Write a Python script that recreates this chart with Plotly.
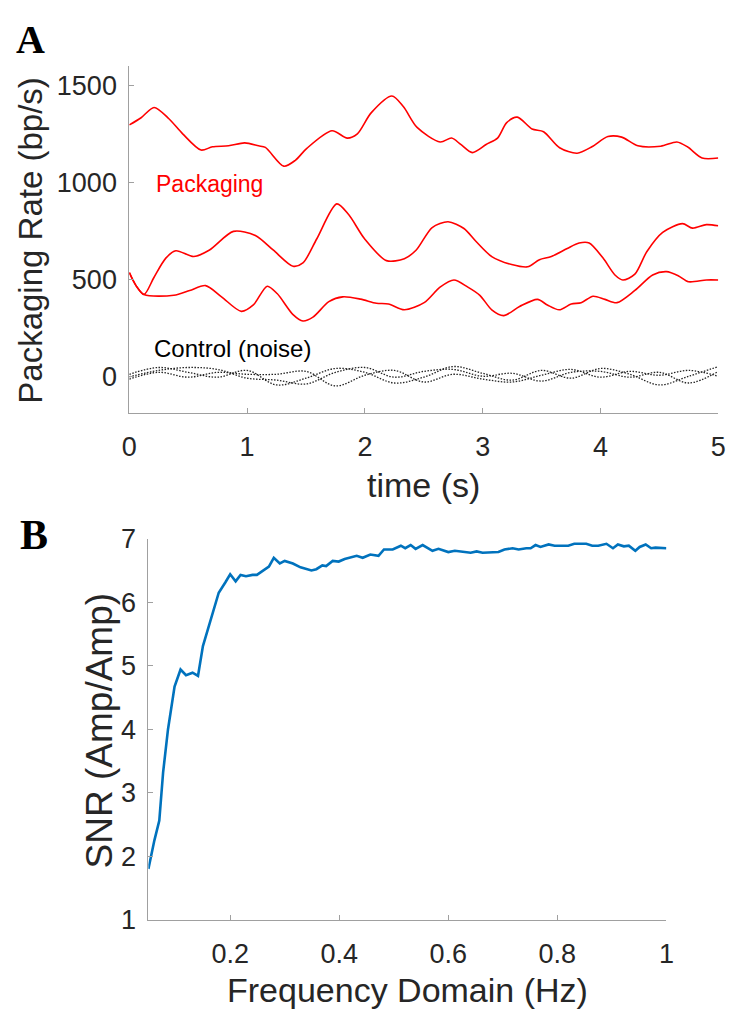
import plotly.graph_objects as go

W, H = 738, 1025

# ---------------- Panel A data ----------------
pk_top_t = [0, 0.10, 0.21, 0.336, 0.453, 0.609, 0.706, 0.843, 0.98, 1.097, 1.155, 1.311, 1.409, 1.507,
            1.721, 1.85, 1.936, 2.053, 2.229, 2.326, 2.443, 2.639, 2.736, 2.814, 2.912, 3.029, 3.126,
            3.204, 3.294, 3.419, 3.517, 3.653, 3.802, 3.927, 4.063, 4.18, 4.317, 4.512, 4.649, 4.738,
            4.863, 5.0]
pk_top_v = [1298, 1335, 1388, 1330, 1252, 1168, 1185, 1190, 1205, 1190, 1182, 1085, 1115, 1177,
            1268, 1230, 1252, 1360, 1447, 1393, 1285, 1210, 1230, 1197, 1155, 1197, 1230,
            1310, 1338, 1277, 1263, 1180, 1152, 1185, 1238, 1235, 1190, 1188, 1210, 1185,
            1127, 1127]

pk_mid_t = [0, 0.057, 0.125, 0.209, 0.31, 0.395, 0.547, 0.681, 0.884, 1.07, 1.221, 1.39, 1.474, 1.592,
            1.761, 1.862, 1.997, 2.183, 2.335, 2.436, 2.571, 2.706, 2.841, 2.942, 3.077, 3.246, 3.381,
            3.482, 3.583, 3.718, 3.819, 3.904, 4.022, 4.123, 4.19, 4.292, 4.393, 4.528, 4.696, 4.781,
            4.899, 5.0]
pk_mid_v = [535, 468, 422, 510, 610, 648, 618, 652, 748, 727, 652, 568, 585, 710,
            890, 835, 710, 597, 607, 652, 768, 798, 763, 697, 618, 577, 565,
            602, 618, 660, 688, 688, 610, 523, 497, 527, 643, 743, 788, 765,
            783, 777]

pk_low_t = [0, 0.057, 0.125, 0.378, 0.513, 0.648, 0.783, 0.951, 1.053, 1.171, 1.255, 1.39, 1.474, 1.559,
            1.694, 1.812, 1.964, 2.098, 2.2, 2.335, 2.503, 2.638, 2.756, 2.874, 2.976, 3.077, 3.178,
            3.313, 3.465, 3.549, 3.65, 3.752, 3.836, 3.937, 4.038, 4.14, 4.292, 4.443, 4.561, 4.663,
            4.747, 4.899, 5.0]
pk_low_v = [535, 468, 422, 418, 443, 468, 410, 335, 368, 465, 427, 318, 285, 305,
            385, 410, 398, 377, 373, 343, 380, 460, 497, 460, 418, 343, 313,
            360, 397, 368, 343, 373, 380, 413, 397, 380, 443, 523, 540, 518,
            488, 497, 497]

noise_t = [0, 0.25, 0.5, 0.75, 1.0, 1.25, 1.5, 1.75, 2.0, 2.25, 2.5, 2.75, 3.0, 3.25, 3.5,
           3.75, 4.0, 4.25, 4.5, 4.75, 5.0]
noise_1 = [10, 45, 20, -5, 30, -45, -10, 40, 20, -35, -5, 50, 15, -20, 30, -10, 40, 10, -45, 0, 50]
noise_2 = [-3, 30, 45, 35, -10, -20, -40, 20, 45, -5, 25, 35, 0, 15, -25, 20, 25, -5, 20, -35, 25]
noise_3 = [-15, 20, -5, 20, 10, 10, 25, -50, 5, 30, -30, 10, -15, -30, 5, 35, -5, 25, 5, 30, 0]

a_yticks = [0, 500, 1000, 1500]
a_xticks = [0, 1, 2, 3, 4, 5]

# ---------------- Panel B data ----------------
snr_f = [0.05, 0.061, 0.07, 0.077, 0.086, 0.092, 0.098, 0.109, 0.119, 0.131, 0.141, 0.15, 0.161, 0.17,
         0.179, 0.191, 0.2, 0.21, 0.219, 0.229, 0.241, 0.249, 0.264, 0.271, 0.28, 0.291, 0.3, 0.315,
         0.329, 0.349, 0.358, 0.369, 0.376, 0.388, 0.399, 0.41, 0.432, 0.443, 0.457, 0.472, 0.482,
         0.498, 0.513, 0.521, 0.531, 0.54, 0.553, 0.571, 0.582, 0.6, 0.612, 0.626, 0.641, 0.652,
         0.663, 0.692, 0.703, 0.718, 0.729, 0.743, 0.751, 0.76, 0.769, 0.784, 0.795, 0.82, 0.831,
         0.853, 0.864, 0.875, 0.89, 0.902, 0.911, 0.922, 0.931, 0.943, 0.951, 0.962, 0.972, 0.98,
         0.991, 1.0]
snr_v = [1.80, 2.25, 2.56, 3.32, 4.0, 4.35, 4.67, 4.94, 4.85, 4.89, 4.84, 5.31, 5.62, 5.9,
         6.15, 6.31, 6.44, 6.33, 6.43, 6.41, 6.43, 6.43, 6.52, 6.56, 6.70, 6.61, 6.65, 6.61,
         6.55, 6.50, 6.52, 6.58, 6.57, 6.65, 6.64, 6.68, 6.73, 6.70, 6.75, 6.73, 6.83,
         6.83, 6.89, 6.85, 6.90, 6.84, 6.90, 6.81, 6.84, 6.79, 6.81, 6.80, 6.78, 6.80,
         6.78, 6.79, 6.83, 6.85, 6.83, 6.85, 6.85, 6.90, 6.87, 6.91, 6.89, 6.89, 6.92,
         6.92, 6.89, 6.89, 6.92, 6.85, 6.91, 6.88, 6.89, 6.81, 6.87, 6.91, 6.85, 6.86,
         6.85, 6.85]

b_yticks = [1, 2, 3, 4, 5, 6, 7]
b_xticks = [0.2, 0.4, 0.6, 0.8, 1.0]
b_xlabels = ["0.2", "0.4", "0.6", "0.8", "1"]


def px(x):
    return x / W


def py(y):
    return 1 - y / H


fig = go.Figure()

red = "#ff0000"
for t, v in [(pk_top_t, pk_top_v), (pk_mid_t, pk_mid_v), (pk_low_t, pk_low_v)]:
    fig.add_trace(go.Scatter(x=t, y=v, mode="lines", xaxis="x", yaxis="y",
                             line=dict(color=red, width=1.6, shape="spline", smoothing=0.8),
                             showlegend=False, hoverinfo="skip"))
for v in [noise_1, noise_2, noise_3]:
    fig.add_trace(go.Scatter(x=noise_t, y=v, mode="lines", xaxis="x", yaxis="y",
                             line=dict(color="#222222", width=1.3, dash="1.5px,1.5px",
                                       shape="spline", smoothing=1.0),
                             showlegend=False, hoverinfo="skip"))

fig.add_trace(go.Scatter(x=snr_f, y=snr_v, mode="lines", xaxis="x2", yaxis="y2",
                         line=dict(color="#0072BD", width=2.6),
                         showlegend=False, hoverinfo="skip"))

tickfont = dict(family="Liberation Sans, Arial, sans-serif", size=27, color="#262626")
axcolor = "#a0a0a0"
common = dict(showline=True, linecolor=axcolor, linewidth=1, ticks="inside", ticklen=5,
              tickcolor=axcolor, tickwidth=1, showgrid=False, zeroline=False, mirror=False,
              tickfont=tickfont, fixedrange=True)

fig.update_layout(
    width=W, height=H, margin=dict(l=0, r=0, t=0, b=0),
    paper_bgcolor="white", plot_bgcolor="white",
    xaxis=dict(domain=[px(124), px(726)], range=[0, 5], anchor="y",
               tickvals=a_xticks, ticklabelstandoff=10, **common),
    yaxis=dict(domain=[py(410), py(53)], range=[-190, 1600], anchor="x",
               tickvals=a_yticks, ticklabelstandoff=6, **common),
    xaxis2=dict(domain=[px(143.5), px(673)], range=[0.05, 1], anchor="y2",
                tickvals=b_xticks, ticktext=b_xlabels, ticklabelstandoff=10, **common),
    yaxis2=dict(domain=[py(932), py(539.5)], range=[1, 7], anchor="x2",
                tickvals=b_yticks, ticklabelstandoff=6, **common),
)

titlefont = dict(family="Liberation Sans, Arial, sans-serif", size=34, color="#262626")
annots = [
    dict(text="<b>A</b>", x=px(6), y=py(0), xanchor="left", yanchor="top",
         font=dict(family="Liberation Serif, Times New Roman, serif", size=40, color="black")),
    dict(text="<b>B</b>", x=px(10), y=py(510), xanchor="left", yanchor="top",
         font=dict(family="Liberation Serif, Times New Roman, serif", size=42, color="black")),
    dict(text="time (s)", x=px(425), y=py(484), xanchor="center", yanchor="middle", font=titlefont),
    dict(text="Frequency Domain (Hz)", x=px(408), y=py(1004), xanchor="center", yanchor="middle",
         font=titlefont),
    dict(text="Packaging Rate (bp/s)", x=px(23), y=py(232), xanchor="center", yanchor="middle",
         textangle=-90, font=dict(family="Liberation Sans, Arial, sans-serif", size=33, color="#262626")),
    dict(text="SNR (Amp/Amp)", x=px(93), y=py(737), xanchor="center", yanchor="middle",
         textangle=-90, font=dict(family="Liberation Sans, Arial, sans-serif", size=37, color="#262626")),
    dict(text="Packaging", x=px(149), y=py(174), xanchor="left", yanchor="middle",
         font=dict(family="Liberation Sans, Arial, sans-serif", size=23, color=red)),
    dict(text="Control (noise)", x=px(147), y=py(344), xanchor="left", yanchor="middle",
         font=dict(family="Liberation Sans, Arial, sans-serif", size=24, color="black")),
]
for a in annots:
    a.update(xref="paper", yref="paper", showarrow=False)
fig.update_layout(annotations=annots)

fig.write_html("out.html", config={"displayModeBar": False})
